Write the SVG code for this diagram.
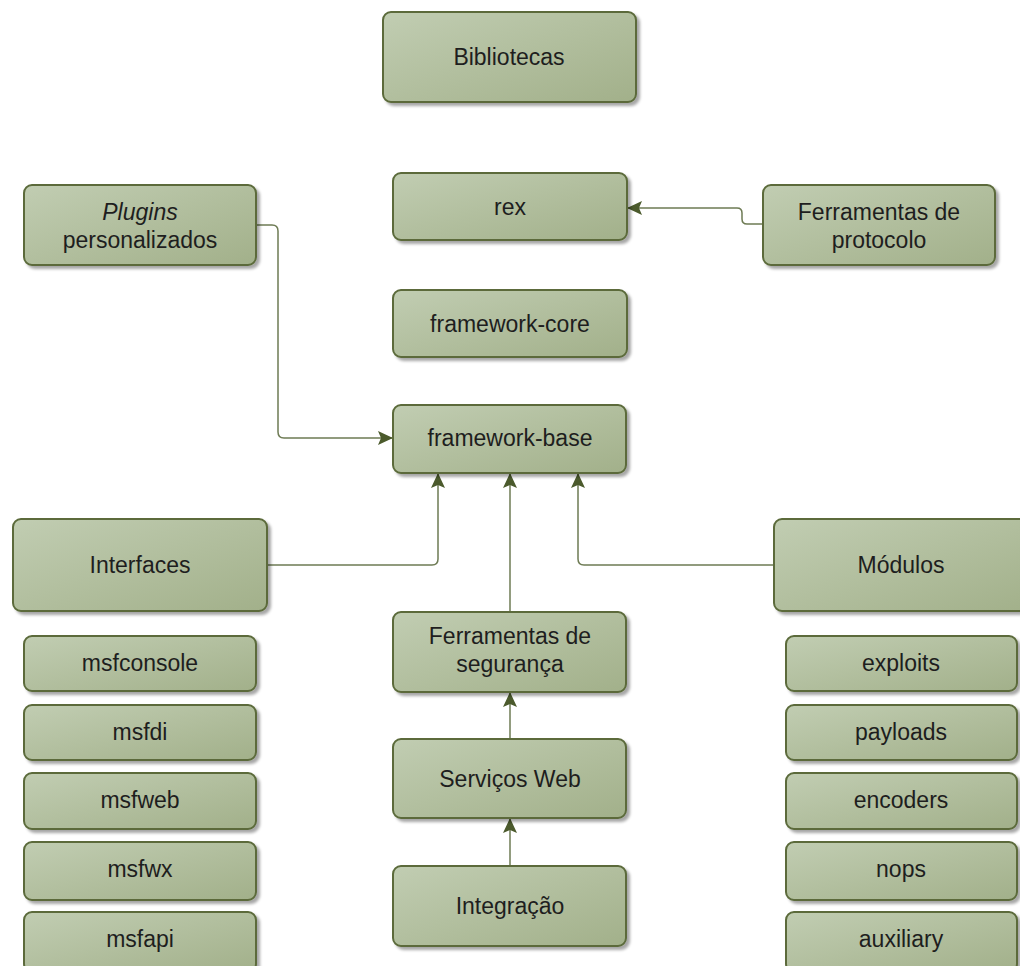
<svg xmlns="http://www.w3.org/2000/svg" width="1020" height="966" viewBox="0 0 1020 966">
<defs>
<linearGradient id="g" x1="0" y1="0" x2="1" y2="1">
<stop offset="0" stop-color="#c1cdb2"/>
<stop offset="1" stop-color="#a2b08a"/>
</linearGradient>
<filter id="sh" x="-10%" y="-10%" width="130%" height="140%">
<feGaussianBlur in="SourceAlpha" stdDeviation="1.5"/>
<feOffset dx="2.5" dy="3" result="b"/>
<feComponentTransfer><feFuncA type="linear" slope="0.35"/></feComponentTransfer>
<feMerge><feMergeNode/><feMergeNode in="SourceGraphic"/></feMerge>
</filter>
<marker id="ar" markerWidth="15" markerHeight="14" refX="14" refY="7" orient="auto" markerUnits="userSpaceOnUse">
<path d="M0,0 L15,7 L0,14 L3,7 Z" fill="#4b5a2c"/>
</marker>
</defs>
<style>
.n rect{fill:url(#g);stroke:#5b6b3b;stroke-width:2;filter:url(#sh)}
.n text{font-family:"Liberation Sans",Arial,sans-serif;font-size:23px;fill:#1e1e1e;text-anchor:middle}
.c path{fill:none;stroke:#6e7b54;stroke-width:1.5;marker-end:url(#ar)}
</style>
<rect width="1020" height="966" fill="#fff"/>
<g class="c" id="connectors">
<path d="M763,224 H747 Q742,224 742,219 V213 Q742,208 737,208 H628"/>
<path d="M256,225 H272 Q278,225 278,231 V432 Q278,438 284,438 H392"/>
<path d="M267,565 H432 Q438,565 438,559 V474"/>
<path d="M510,612 V474"/>
<path d="M774,565 H584 Q578,565 578,559 V474"/>
<path d="M510,739 V693"/>
<path d="M510,866 V819"/>
</g>
<g class="n" id="bibliotecas"><rect x="383" y="12" width="253" height="90" rx="8"/><text x="509" y="65">Bibliotecas</text></g>
<g class="n" id="rex"><rect x="393" y="173" width="234" height="67" rx="8"/><text x="510" y="215">rex</text></g>
<g class="n" id="plugins"><rect x="24" y="185" width="232" height="80" rx="8"/><text x="140" y="220"><tspan font-style="italic">Plugins</tspan></text><text x="140" y="248">personalizados</text></g>
<g class="n" id="ferr-protocolo"><rect x="763" y="185" width="232" height="80" rx="8"/><text x="879" y="220">Ferramentas de</text><text x="879" y="248">protocolo</text></g>
<g class="n" id="framework-core"><rect x="393" y="290" width="234" height="67" rx="8"/><text x="510" y="332">framework-core</text></g>
<g class="n" id="framework-base"><rect x="393" y="405" width="233" height="68" rx="8"/><text x="510" y="446">framework-base</text></g>
<g class="n" id="interfaces"><rect x="13" y="519" width="254" height="92" rx="8"/><text x="140" y="573">Interfaces</text></g>
<g class="n" id="modulos"><rect x="774" y="519" width="256" height="92" rx="8"/><text x="901" y="573">Módulos</text></g>
<g class="n" id="ferr-seguranca"><rect x="393" y="612" width="233" height="80" rx="8"/><text x="510" y="644">Ferramentas de</text><text x="510" y="672">segurança</text></g>
<g class="n" id="servicos-web"><rect x="393" y="739" width="233" height="79" rx="8"/><text x="510" y="787">Serviços Web</text></g>
<g class="n" id="integracao"><rect x="393" y="866" width="233" height="80" rx="8"/><text x="510" y="914">Integração</text></g>
<g class="n" id="msfconsole"><rect x="24" y="636" width="232" height="55" rx="8"/><text x="140" y="671">msfconsole</text></g>
<g class="n" id="msfdi"><rect x="24" y="705" width="232" height="55" rx="8"/><text x="140" y="740">msfdi</text></g>
<g class="n" id="msfweb"><rect x="24" y="773" width="232" height="56" rx="8"/><text x="140" y="808">msfweb</text></g>
<g class="n" id="msfwx"><rect x="24" y="842" width="232" height="58" rx="8"/><text x="140" y="877">msfwx</text></g>
<g class="n" id="msfapi"><rect x="24" y="912" width="232" height="60" rx="8"/><text x="140" y="947">msfapi</text></g>
<g class="n" id="exploits"><rect x="786" y="636" width="231" height="55" rx="8"/><text x="901" y="671">exploits</text></g>
<g class="n" id="payloads"><rect x="786" y="705" width="231" height="55" rx="8"/><text x="901" y="740">payloads</text></g>
<g class="n" id="encoders"><rect x="786" y="773" width="231" height="56" rx="8"/><text x="901" y="808">encoders</text></g>
<g class="n" id="nops"><rect x="786" y="842" width="231" height="58" rx="8"/><text x="901" y="877">nops</text></g>
<g class="n" id="auxiliary"><rect x="786" y="912" width="231" height="60" rx="8"/><text x="901" y="947">auxiliary</text></g>
</svg>
